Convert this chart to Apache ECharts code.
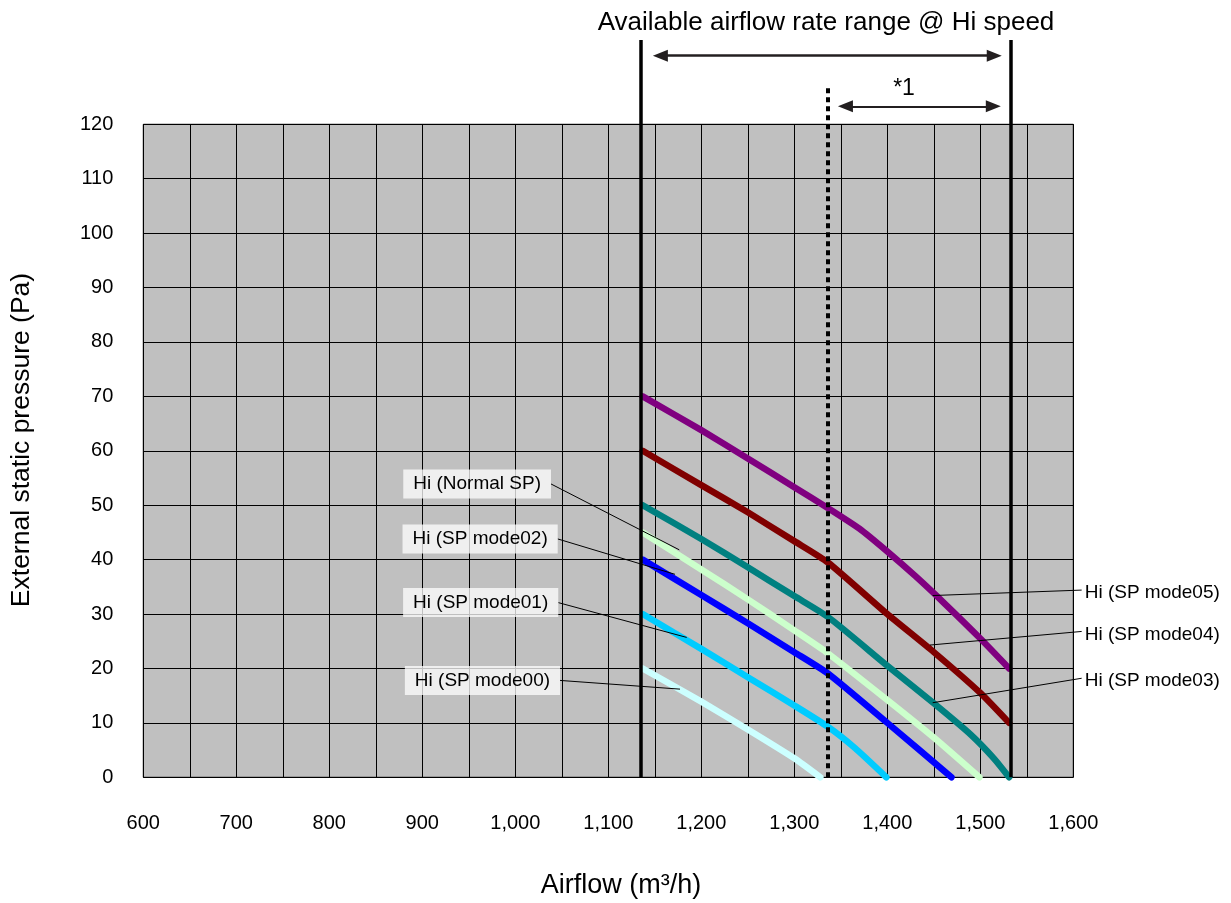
<!DOCTYPE html>
<html><head><meta charset="utf-8">
<script src="https://cdn.jsdelivr.net/npm/echarts@6/dist/echarts.min.js"></script>
<style>html,body{margin:0;padding:0;background:#fff}#c{width:1231px;height:903px}</style>
</head><body><div id="c"></div>
<script>
// ---- data ----
const xMin = 600, xMax = 1600, xStep = 50, xLabelStep = 100;
const yMin = 0, yMax = 120, yStep = 10;

const curveNames = ['Hi (SP mode05)','Hi (SP mode04)','Hi (SP mode03)','Hi (Normal SP)','Hi (SP mode02)','Hi (SP mode01)','Hi (SP mode00)'];
const curveColors = ['#800080','#800000','#008080','#CCFFCC','#0000FF','#00CCFF','#CCFFFF'];
const mode05 = [[1137,70],[1200,63.8],[1250,58.6],[1300,53.3],[1336,49.5],[1370,45.7],[1400,41.5],[1430,37],[1460,32.2],[1500,25.5],[1531,20]];
const mode04 = [[1137,60],[1200,53.7],[1250,48.7],[1300,43.4],[1336,39.5],[1400,30],[1450,23],[1500,15.5],[1531,10]];
const mode03 = [[1137,50],[1200,43.8],[1250,38.6],[1300,33.3],[1336,29.5],[1400,20.5],[1450,13.6],[1490,7.8],[1515,3.4],[1531,0]];
const normalSP = [[1137,45],[1200,38.2],[1250,32.7],[1300,27],[1336,22.8],[1400,14.2],[1450,7.3],[1499,0]];
const mode02 = [[1137,40],[1200,33.5],[1250,28.3],[1300,23],[1336,19.1],[1400,10],[1469,0]];
const mode01 = [[1137,30],[1200,23.6],[1250,18.4],[1300,13.2],[1336,9.3],[1365,5.4],[1399,0]];
const mode00 = [[1137,20],[1200,13.9],[1250,8.8],[1300,3.5],[1328,0]];
const curves = [mode05, mode04, mode03, normalSP, mode02, mode01, mode00];

// annotation values (in axis units)
const rangeLines = [1135, 1533];     // available airflow range @ Hi speed
const rangeLineTop = 135.5;
const star1Line = 1336;              // *1 boundary
const star1LineTop = 126.7;
const rangeArrow = {from: 1156, to: 1515, y: 132.6};
const star1Arrow = {from: 1355, to: 1514, y: 123.3};

// leader lines: [label anchor, point on curve]
const leftLeaders = [
  {name:'Hi (Normal SP)', from:[1038.4,53.9], to:[1176.3,41.8]},
  {name:'Hi (SP mode02)', from:[1045.6,43.8], to:[1171.7,37.3]},
  {name:'Hi (SP mode01)', from:[1046.2,32.1], to:[1184.3,25.7]},
  {name:'Hi (SP mode00)', from:[1048.1,17.8], to:[1177.1,16.2]}
];
const rightLeaders = [
  {name:'Hi (SP mode05)', from:[1609,34.4], to:[1448.8,33.4]},
  {name:'Hi (SP mode04)', from:[1609,26.8], to:[1445.9,24.3]},
  {name:'Hi (SP mode03)', from:[1609,18.2], to:[1448.8,13.7]}
];

const FONT = 'Liberation Sans, Arial, sans-serif';
const fmt = v => String(v).replace(/\B(?=(\d{3})+(?!\d))/g, ',');

const chart = echarts.init(document.getElementById('c'), null, {renderer:'canvas'});

const series = [];
curves.forEach((d, i) => {
  series.push({
    name: curveNames[i], type:'line', xAxisIndex:0, yAxisIndex:0,
    data: d, symbol:'none', showSymbol:false, smooth:0.2,
    clip:false, silent:true, z:3,
    lineStyle:{width:6.5, color:curveColors[i], cap:'round', join:'round'}
  });
});

const mlBase = {symbol:['none','none'], silent:true, label:{show:false}, animation:false, emphasis:{disabled:true}};

// vertical boundary lines
series.push({
  type:'line', xAxisIndex:1, yAxisIndex:1, data:[], symbol:'none', silent:true, z:6,
  markLine: Object.assign({}, mlBase, {
    lineStyle:{color:'#000', width:3.5, type:'solid'},
    data: rangeLines.map(x => [{coord:[x,0]},{coord:[x,rangeLineTop]}]).concat([
      [{coord:[star1Line,0], lineStyle:{color:'#000', width:4, type:[5,4]}},{coord:[star1Line,star1LineTop]}]
    ])
  })
});
// arrows
series.push({
  type:'line', xAxisIndex:1, yAxisIndex:1, data:[], symbol:'none', silent:true, z:6,
  markLine: Object.assign({}, mlBase, {
    symbol:['triangle','triangle'], symbolSize:[12,15],
    lineStyle:{color:'#231F20', width:2.5, type:'solid'},
    data: [
      [{coord:[rangeArrow.from, rangeArrow.y]},{coord:[rangeArrow.to, rangeArrow.y]}],
      [{coord:[star1Arrow.from, star1Arrow.y], lineStyle:{width:2}},{coord:[star1Arrow.to, star1Arrow.y]}]
    ]
  })
});
// leader lines
series.push({
  type:'line', xAxisIndex:1, yAxisIndex:1, data:[], symbol:'none', silent:true, z:7,
  markLine: Object.assign({}, mlBase, {
    lineStyle:{color:'#000', width:1, type:'solid'},
    data: leftLeaders.concat(rightLeaders).map(l => [{coord:l.from},{coord:l.to}])
  })
});
// labels
series.push({
  type:'line', xAxisIndex:1, yAxisIndex:1, data:[], symbol:'none', silent:true, z:8,
  markPoint:{
    symbol:'rect', symbolSize:0, silent:true, animation:false,
    data: leftLeaders.map(l => ({name:l.name, coord:l.from, label:{
        show:true, position:'left', distance:0, formatter:'{b}',
        backgroundColor:'rgba(255,255,255,0.75)', padding:[5,10,5,10],
        fontSize:19, lineHeight:19, color:'#000', fontFamily:FONT}}))
      .concat(rightLeaders.map(l => ({name:l.name, coord:l.from, label:{
        show:true, position:'right', distance:3, formatter:'{b}',
        fontSize:19, lineHeight:19, color:'#000', fontFamily:FONT, offset:[0,3]}})))
  }
});

const option = {
  animation:false,
  backgroundColor:'#fff',
  textStyle:{fontFamily:FONT},
  grid:[
    {left:143.3, right:157.7, top:124.3, bottom:125.7, show:true, backgroundColor:'#C0C0C0', borderColor:'#000', borderWidth:1, z:0},
    {left:143.3, right:64.7, top:15.4, bottom:125.7, show:false}
  ],
  xAxis:[
    {gridIndex:0, type:'value', min:xMin, max:xMax, interval:xStep,
     axisLine:{show:false}, axisTick:{show:false},
     splitLine:{show:true, lineStyle:{color:'#000', width:1}},
     axisLabel:{margin:36, fontSize:20, color:'#000', fontFamily:FONT,
       formatter: v => (v % xLabelStep === 0 ? fmt(v) : '')}},
    {gridIndex:1, type:'value', min:600, max:1700, show:false}
  ],
  yAxis:[
    {gridIndex:0, type:'value', min:yMin, max:yMax, interval:yStep,
     axisLine:{show:false}, axisTick:{show:false},
     splitLine:{show:true, lineStyle:{color:'#000', width:1}},
     axisLabel:{margin:30, fontSize:20, color:'#000', fontFamily:FONT}},
    {gridIndex:1, type:'value', min:0, max:140, show:false}
  ],
  graphic:[
    {type:'text', x:826, y:23, style:{text:'Available airflow rate range @ Hi speed', font:'26px '+FONT, fill:'#000', textAlign:'center', textVerticalAlign:'middle'}},
    {type:'text', x:904, y:89, style:{text:'*1', font:'23px '+FONT, fill:'#000', textAlign:'center', textVerticalAlign:'middle'}},
    {type:'text', x:22, y:440, rotation:Math.PI/2, style:{text:'External static pressure (Pa)', font:'26.5px '+FONT, fill:'#000', textAlign:'center', textVerticalAlign:'middle'}},
    {type:'text', x:621, y:886, style:{text:'Airflow (m³/h)', font:'27px '+FONT, fill:'#000', textAlign:'center', textVerticalAlign:'middle'}}
  ],
  series: series
};
chart.setOption(option);
</script></body></html>
